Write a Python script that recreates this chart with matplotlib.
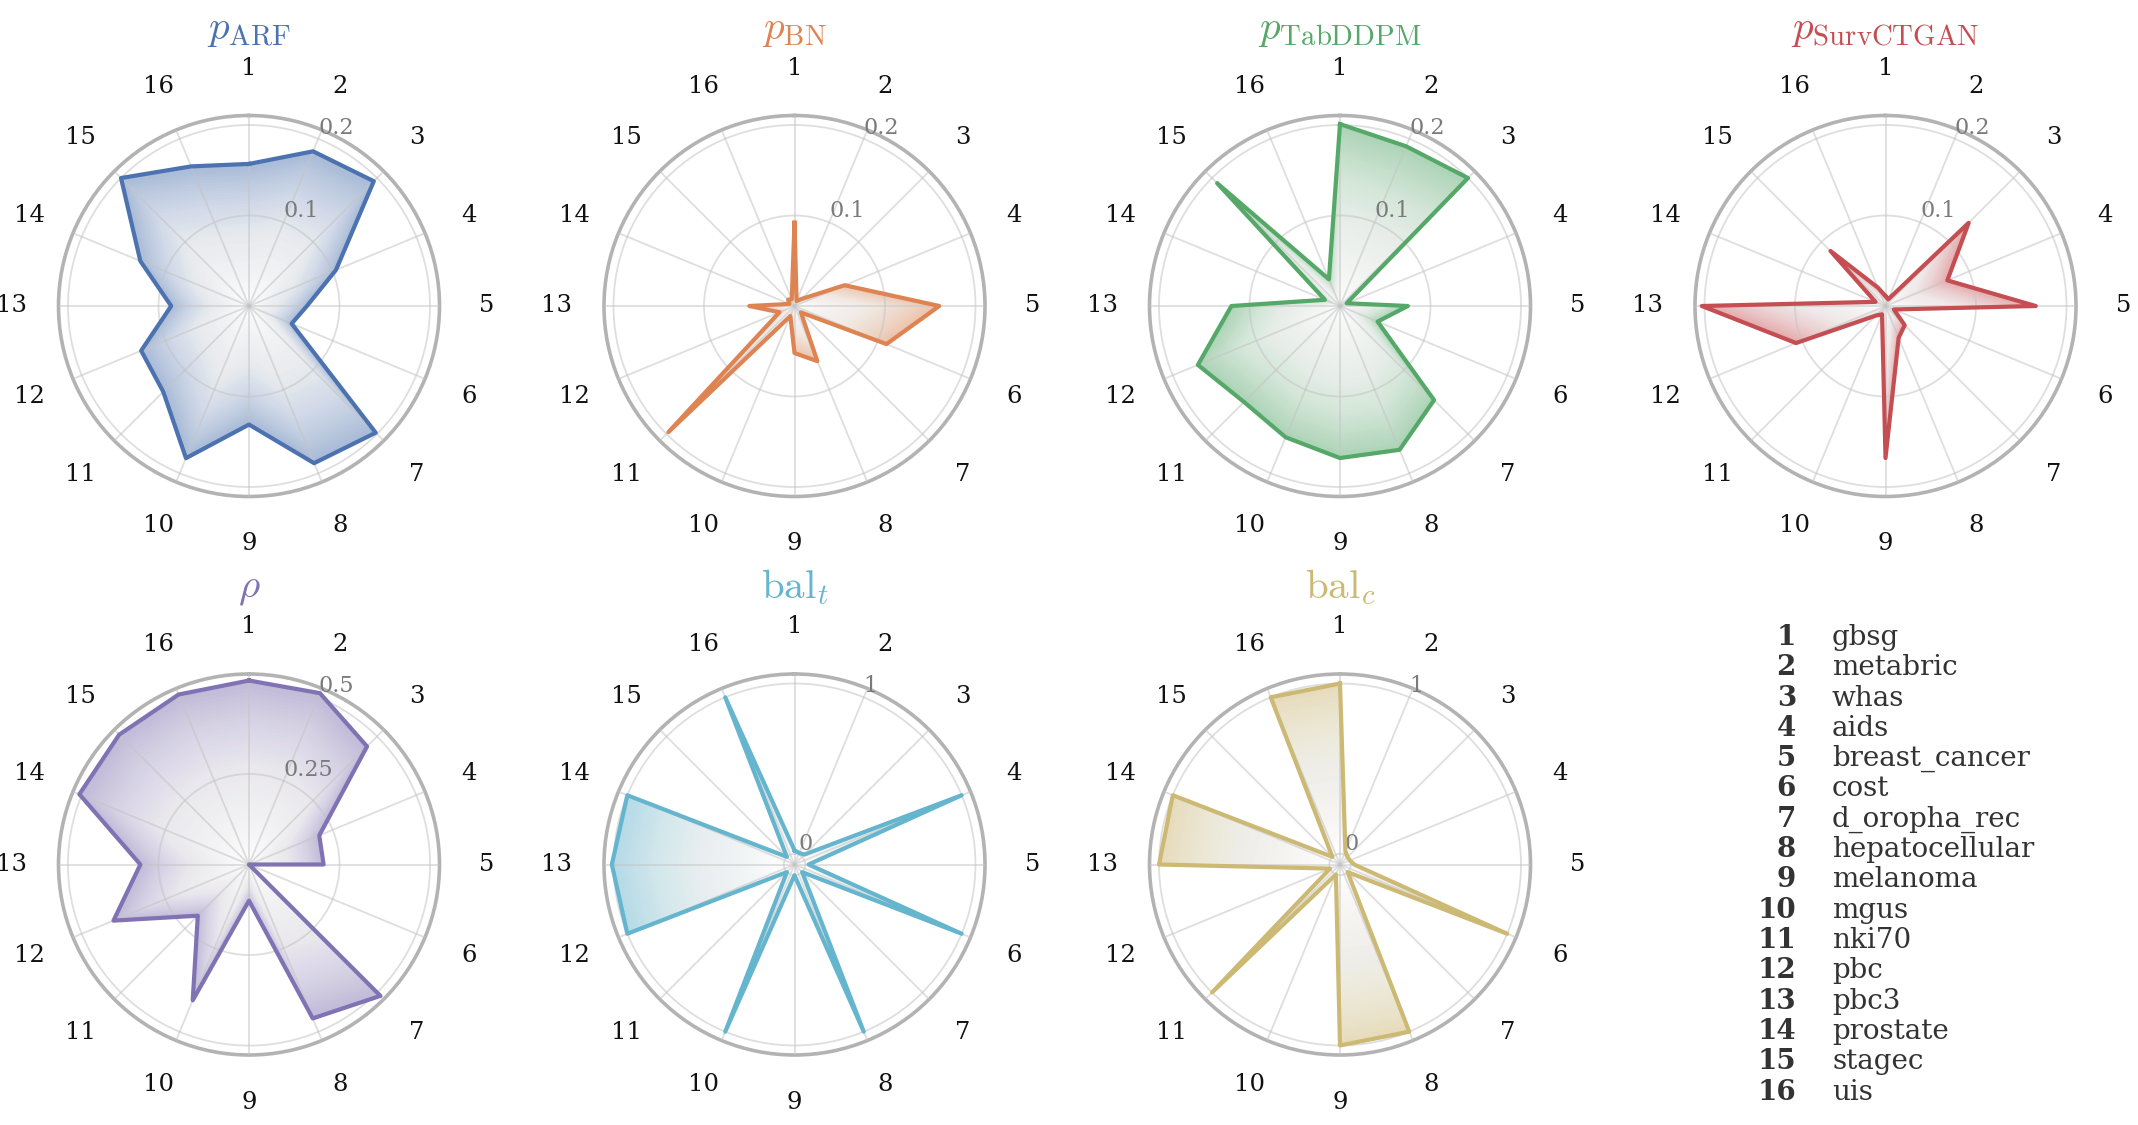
import numpy as np
import matplotlib
matplotlib.use("Agg")
import matplotlib.pyplot as plt

plt.rcParams["font.family"] = ["DejaVu Serif"]
plt.rcParams["mathtext.fontset"] = "cm"

datasets = ["gbsg", "metabric", "whas", "aids", "breast_cancer", "cost",
            "d_oropha_rec", "hepatocellular", "melanoma", "mgus", "nki70",
            "pbc", "pbc3", "prostate", "stagec", "uis"]
labels = [str(i + 1) for i in range(len(datasets))]

p_arf = [0.157, 0.185, 0.195, 0.104, 0.064, 0.051, 0.198, 0.188,
         0.131, 0.182, 0.134, 0.129, 0.086, 0.130, 0.200, 0.167]
p_bn = [0.092, 0.006, 0.011, 0.060, 0.160, 0.110, 0.010, 0.066,
        0.052, 0.012, 0.197, 0.018, 0.050, 0.006, 0.010, 0.008]
p_tabddpm = [0.201, 0.191, 0.200, 0.008, 0.075, 0.045, 0.147, 0.172,
             0.168, 0.157, 0.150, 0.170, 0.120, 0.018, 0.192, 0.032]
p_survctgan = [0.011, 0.008, 0.130, 0.074, 0.166, 0.010, 0.030, 0.038,
               0.168, 0.010, 0.015, 0.107, 0.203, 0.012, 0.086, 0.022]
rho = [0.508, 0.512, 0.461, 0.210, 0.206, 0.0, 0.513, 0.460,
       0.100, 0.406, 0.200, 0.405, 0.300, 0.507, 0.507, 0.508]
bal_t = [0.02, 0.01, 0.02, 1.0, 0.02, 1.0, 0.0, 1.0,
         0.0, 1.0, 0.0, 1.0, 1.01, 1.0, 0.0, 1.0]
bal_c = [1.0, 0.02, 0.0, 0.0, 0.02, 1.0, 0.0, 1.0,
         1.0, 0.0, 1.0, 0.0, 1.0, 1.0, 0.0, 1.0]

panels = [
    (p_arf, r"$p_{\mathrm{ARF}}$", "#4c72b0", [0.1, 0.2], ["0.1", "0.2"], (0, 0.2105)),
    (p_bn, r"$p_{\mathrm{BN}}$", "#dd8452", [0.1, 0.2], ["0.1", "0.2"], (0, 0.2105)),
    (p_tabddpm, r"$p_{\mathrm{TabDDPM}}$", "#55a868", [0.1, 0.2], ["0.1", "0.2"], (0, 0.2105)),
    (p_survctgan, r"$p_{\mathrm{SurvCTGAN}}$", "#c44e52", [0.1, 0.2], ["0.1", "0.2"], (0, 0.2105)),
    (rho, r"$\rho$", "#8172b3", [0.25, 0.5], ["0.25", "0.5"], (0, 0.526)),
    (bal_t, r"$\mathrm{bal}_t$", "#64b5cd", [0, 1], ["0", "1"], (-0.063, 1.056)),
    (bal_c, r"$\mathrm{bal}_c$", "#ccb974", [0, 1], ["0", "1"], (-0.063, 1.056)),
]

W, H = 2138, 1125
R = 190.5
cx = [249, 794.5, 1340, 1885.5]
cy = [306, 864.5]

fig = plt.figure(figsize=(W / 100, H / 100), dpi=100)

theta = np.linspace(0, 2 * np.pi, len(datasets), endpoint=False)
theta_c = np.append(theta, theta[0])
n_layers = 50
gamma = 2.2  # colour strength grows like (r / r_edge) ** gamma

for k, (vals, title, col, rt, rtl, lim) in enumerate(panels):
    row, c = divmod(k, 4)
    ax = fig.add_axes([(cx[c] - R) / W, 1 - (cy[row] + R) / H, 2 * R / W, 2 * R / H],
                      projection="polar")
    ax.set_theta_zero_location("N")
    ax.set_theta_direction(-1)
    ax.set_ylim(*lim)
    ax.set_axisbelow(False)

    r = np.append(vals, vals[0])
    # radial gradient: coloured polygon, whitened towards the centre by scaled copies
    ax.fill(theta_c, r, color=col, alpha=0.5, lw=0, zorder=1)
    for j in range(1, n_layers + 1):
        a = 1 - ((j - 1) / j) ** gamma
        ax.fill(theta_c, r * j / n_layers, color="white", alpha=a, lw=0, zorder=1.5)
    ax.plot(theta_c, r, color=col, lw=3, zorder=3)

    ax.set_xticks(theta)
    ax.set_xticklabels(labels, fontsize=17.5, color="#111111")
    ax.tick_params(axis="x", length=0, pad=27)
    ax.set_yticks(rt)
    ax.set_yticklabels(rtl, fontsize=16, color="#7a7a7a")
    ax.grid(True, color="#c4c4c4", alpha=0.55, lw=1.3)
    ax.spines["polar"].set_color("#b3b3b3")
    ax.spines["polar"].set_linewidth(2.6)
    ax.text(0.5, 1.2, title, transform=ax.transAxes, ha="center", va="baseline",
            fontsize=29.5, color=col)

# dataset key in the last cell
y0, dy = 645, 30.3
for i, name in enumerate(datasets):
    y = 1 - (y0 + i * dy) / H
    fig.text(1796 / W, y, labels[i], ha="right", va="baseline", fontsize=20,
             fontweight="bold", color="#333333")
    fig.text(1832 / W, y, name, ha="left", va="baseline", fontsize=20, color="#333333")

fig.savefig("out.png", dpi=100)
